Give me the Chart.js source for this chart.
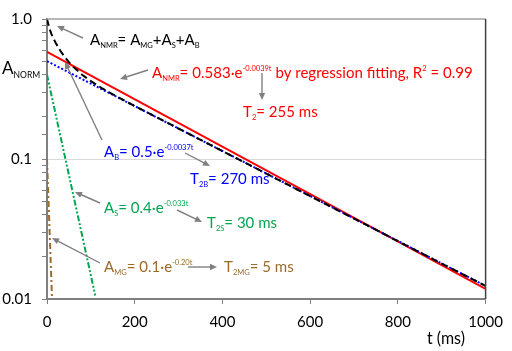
<!DOCTYPE html>
<html>
<head>
<meta charset="utf-8">
<script src="https://cdn.jsdelivr.net/npm/chart.js@4"></script>
<style>
  html, body { margin: 0; padding: 0; background: #fff; }
  #wrap { width: 512px; height: 351px; }
</style>
</head>
<body>
<div id="wrap"><canvas id="c" width="512" height="351"></canvas></div>
<script>
// Values (t in ms, normalised amplitude)
const tNmr = [0, 5, 10, 15, 20, 30, 40, 50, 60, 80, 100, 125, 150, 200, 300, 400, 500, 600, 700, 800, 900, 1000];
const aNmr = [1.0, 0.867, 0.783, 0.722, 0.673, 0.596, 0.538, 0.492, 0.455, 0.400, 0.360, 0.321, 0.290, 0.239, 0.165, 0.114, 0.0786, 0.0543, 0.0375, 0.0259, 0.0179, 0.0124];
const tFit = [0, 1000];
const aFit = [0.583, 0.0118];
const tB = [0, 1000];
const aB = [0.5, 0.0124];
const tS = [0, 110];
const aS = [0.4, 0.0106];
const tMG = [0, 11.5];
const aMG = [0.1, 0.0100];
const xTicks = [0, 200, 400, 600, 800, 1000];
const yLabels = { 1: '1.0', 0.1: '0.1', 0.01: '0.01' };

const FONT = 'Lato, "Open Sans", sans-serif';
const pts = (xs, ys) => xs.map((x, i) => ({ x: x, y: ys[i] }));

// draws text with _{sub} and ^{sup} parts, squeezed by sx to match the narrow original face
function richText(ctx, str, x, y, size, color, sx) {
  const re = /([_^])\{([^}]*)\}|([^_^]+)/g;
  let m, cx = 0;
  ctx.save();
  ctx.translate(x, y);
  ctx.scale(sx || 0.94, 1);
  ctx.fillStyle = color;
  ctx.textBaseline = 'alphabetic';
  ctx.textAlign = 'left';
  while ((m = re.exec(str)) !== null) {
    if (m[3]) {
      ctx.font = size + 'px ' + FONT;
      ctx.fillText(m[3], cx, 0);
      cx += ctx.measureText(m[3]).width;
    } else {
      ctx.font = Math.round(size * 0.52) + 'px ' + FONT;
      const dy = m[1] === '_' ? size * 0.2 : -size * 0.42;
      ctx.fillText(m[2], cx, dy);
      cx += ctx.measureText(m[2]).width;
    }
  }
  ctx.restore();
}

function arrow(ctx, x1, y1, x2, y2) {
  const ang = Math.atan2(y2 - y1, x2 - x1);
  const L = 7, W = 3.2;
  ctx.strokeStyle = '#808080';
  ctx.fillStyle = '#808080';
  ctx.lineWidth = 1.4;
  ctx.beginPath();
  ctx.moveTo(x1, y1);
  ctx.lineTo(x2 - Math.cos(ang) * L * 0.8, y2 - Math.sin(ang) * L * 0.8);
  ctx.stroke();
  ctx.beginPath();
  ctx.moveTo(x2, y2);
  ctx.lineTo(x2 - Math.cos(ang) * L - Math.sin(ang) * W, y2 - Math.sin(ang) * L + Math.cos(ang) * W);
  ctx.lineTo(x2 - Math.cos(ang) * L + Math.sin(ang) * W, y2 - Math.sin(ang) * L - Math.cos(ang) * W);
  ctx.closePath();
  ctx.fill();
}

const annotations = {
  id: 'annotations',
  afterDraw(chart) {
    const ctx = chart.ctx;
    const a = chart.chartArea;
    ctx.save();
    // frame: top and right edges
    ctx.lineWidth = 1.5;
    ctx.strokeStyle = '#a0a0a0';
    ctx.beginPath(); ctx.moveTo(a.left, a.top); ctx.lineTo(a.right, a.top); ctx.stroke();
    ctx.strokeStyle = '#404040';
    ctx.beginPath(); ctx.moveTo(a.right, a.top); ctx.lineTo(a.right, a.bottom); ctx.stroke();

    // axis titles
    richText(ctx, 'A_{NORM}', 2, 74, 18, '#000', 0.95);
    richText(ctx, 't (ms)', 427, 344, 17, '#000', 0.94);

    richText(ctx, 'A_{NMR}= A_{MG}+A_{S}+A_{B}', 90, 45, 16, '#000');
    richText(ctx, 'A_{NMR}= 0.583·e^{-0.0039t} by regression fitting, R^{2} = 0.99', 152, 78, 16, '#ff0000');
    richText(ctx, 'T_{2}= 255 ms', 243, 117, 16, '#ff0000');
    richText(ctx, 'A_{B}= 0.5·e^{-0.0037t}', 104, 157, 16, '#0000ff');
    richText(ctx, 'T_{2B}= 270 ms', 190, 184, 16, '#0000ff');
    richText(ctx, 'A_{S}= 0.4·e^{-0.033t}', 104, 213, 16, '#00a64f');
    richText(ctx, 'T_{2S}= 30 ms', 207, 228, 16, '#00a64f');
    richText(ctx, 'A_{MG}= 0.1·e^{-0.20t}', 104, 272, 16, '#9c6b2a');
    richText(ctx, 'T_{2MG}= 5 ms', 224, 272, 16, '#9c6b2a');

    arrow(ctx, 83, 38, 57, 26);
    arrow(ctx, 148, 70, 120, 79);
    arrow(ctx, 262, 73, 262, 100);
    arrow(ctx, 102, 140, 65, 62);
    arrow(ctx, 185, 153, 210, 166);
    arrow(ctx, 100, 203, 75, 192);
    arrow(ctx, 177, 210, 202, 222);
    arrow(ctx, 100, 263, 52, 238);
    arrow(ctx, 188, 267, 217, 267);
    ctx.restore();
  }
};

new Chart(document.getElementById('c'), {
  type: 'scatter',
  data: {
    datasets: [
      { label: 'A_NMR', data: pts(tNmr, aNmr), showLine: true, borderColor: '#000', borderWidth: 2, borderDash: [7, 4], pointRadius: 0 },
      { label: 'A_B', data: pts(tB, aB), showLine: true, borderColor: '#0000ff', borderWidth: 2, borderDash: [2, 2], pointRadius: 0 },
      { label: 'Fit', data: pts(tFit, aFit), showLine: true, borderColor: '#ff0000', borderWidth: 2, pointRadius: 0 },
      { label: 'A_S', data: pts(tS, aS), showLine: true, borderColor: '#00a64f', borderWidth: 2, borderDash: [6, 2, 2, 2, 2, 2], pointRadius: 0 },
      { label: 'A_MG', data: pts(tMG, aMG), showLine: true, borderColor: '#9c6b2a', borderWidth: 2, borderDash: [6, 3, 2, 3], pointRadius: 0 }
    ]
  },
  options: {
    responsive: false,
    animation: false,
    layout: { padding: { top: 7, right: 13, left: 0, bottom: 0 } },
    plugins: { legend: { display: false }, tooltip: { enabled: false } },
    scales: {
      x: {
        type: 'linear', min: 0, max: 1000,
        afterBuildTicks: (s) => { s.ticks = xTicks.map(v => ({ value: v })); },
        afterFit: (s) => { s.height = 52; },
        grid: { drawOnChartArea: false, tickColor: '#808080', tickLength: 5 },
        border: { color: '#808080', width: 2 },
        ticks: { color: '#000', padding: 9, font: { family: FONT, size: 15 }, maxRotation: 0, callback: (v) => String(v) }
      },
      y: {
        type: 'logarithmic', min: 0.01, max: 1,
        afterFit: (s) => { s.width = 47; },
        grid: {
          color: (c) => (c.tick && Math.abs(c.tick.value - 0.1) < 1e-9) ? '#d9d9d9' : 'rgba(0,0,0,0)',
          tickColor: '#808080', tickLength: 5
        },
        border: { color: '#808080', width: 2 },
        ticks: {
          color: '#000', padding: 10, autoSkip: false, font: { family: FONT, size: 15 },
          callback: (v) => yLabels[v] || ''
        }
      }
    }
  },
  plugins: [annotations]
});
</script>
</body>
</html>
